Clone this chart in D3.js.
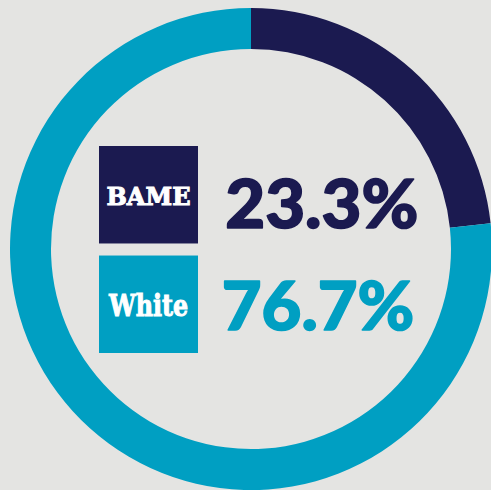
<!DOCTYPE html>
<html><head><meta charset="utf-8">
<script src="https://cdn.jsdelivr.net/npm/d3@7"></script>
<style>html,body{margin:0;padding:0;background:#e4e4e2;overflow:hidden}</style>
</head><body>
<svg id="c" width="491" height="490"></svg>
<script>
const categories = ["BAME", "White"];
const values = [23.3, 76.7];
const labels = ["23.3%", "76.7%"];
const colors = ["#1b1a50", "#009fc2"];

const svg = d3.select("#c");
svg.append("rect").attr("width",491).attr("height",490).attr("fill","#e4e4e2");
const cx = 251, cy = 249;
const pie = d3.pie().sort(null).value(d => d)(values);
const arc = d3.arc().innerRadius(200).outerRadius(241);
svg.append("g").attr("transform",`translate(${cx},${cy})`)
  .selectAll("path").data(pie).join("path")
  .attr("d", arc).attr("fill", (d,i) => colors[i]);

const y = d3.scaleBand().domain(categories).range([146, 353]).paddingInner(0.11);
const g = svg.append("g");
categories.forEach((c,i) => {
  const top = y(c), h = y.bandwidth();
  g.append("rect").attr("x",99).attr("y",top).attr("width",99).attr("height",h).attr("fill",colors[i]);
  g.append("text").attr("x",148.5).attr("y", i===0 ? 204.5 : 316)
    .attr("text-anchor","middle")
    .attr("font-family","'DejaVu Serif', 'Liberation Serif', serif").attr("font-weight","bold")
    .attr("font-size", i===0 ? 24 : 29)
    .attr("textLength", i===0 ? 84 : 79).attr("lengthAdjust","spacingAndGlyphs")
    .attr("stroke","#ffffff").attr("stroke-width",1)
    .attr("fill","#ffffff").text(c);
  g.append("text").attr("x", i===0 ? 225.3 : 221.8).attr("y", i===0 ? 227.7 : 329.7)
    .attr("font-family","Lato").attr("font-weight","900")
    .attr("font-size", 67)
    .attr("textLength", i===0 ? 193 : 192.5).attr("lengthAdjust","spacingAndGlyphs")
    .attr("stroke",colors[i]).attr("stroke-width",1.6).attr("stroke-linejoin","round")
    .attr("fill",colors[i]).text(labels[i]);
});
</script>
</body></html>
